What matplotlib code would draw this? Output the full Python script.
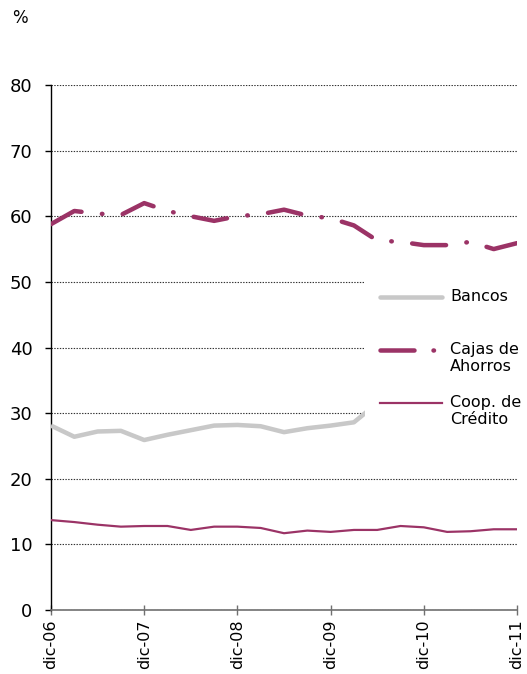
import matplotlib
matplotlib.use("Agg")
import matplotlib.pyplot as plt
from matplotlib.lines import Line2D
from matplotlib.patches import Rectangle

plt.rcParams['font.family'] = ['DejaVu Sans']
plt.rcParams['lines.scale_dashes'] = False

# Quarterly data, dic-06 .. dic-11
quarters = list(range(21))
tick_labels = ["dic-06", "dic-07", "dic-08", "dic-09", "dic-10", "dic-11"]
tick_positions = [0, 4, 8, 12, 16, 20]

bancos = [28.1, 26.4, 27.2, 27.3, 25.9, 26.7, 27.4, 28.1, 28.2, 28.0, 27.1,
          27.7, 28.1, 28.6, 31.5, 31.1, 31.8, 32.5, 31.9, 32.7, 31.8]
cajas = [58.8, 60.8, 60.4, 60.2, 62.0, 60.8, 60.0, 59.3, 60.0, 60.3, 61.0,
         60.1, 59.7, 58.6, 56.3, 56.1, 55.6, 55.6, 56.1, 55.0, 55.9]
coop = [13.7, 13.4, 13.0, 12.7, 12.8, 12.8, 12.2, 12.7, 12.7, 12.5, 11.7,
        12.1, 11.9, 12.2, 12.2, 12.8, 12.6, 11.9, 12.0, 12.3, 12.3]

series_names = ["Bancos", "Cajas de\nAhorros", "Coop. de\nCrédito"]

W, H = 527, 674
fig = plt.figure(figsize=(W / 100, H / 100), dpi=100)
ax = fig.add_axes([51 / W, 1 - 610 / H, (517 - 51) / W, (610 - 85) / H])

purple = "#9B3366"
gray = "#C8C8C8"
px = 0.72
dash_pattern = (0, (34 * px, 20.5 * px, 0.5 * px, 20.5 * px))

ax.plot(quarters, bancos, color=gray, lw=4.5 * px, solid_capstyle='butt', zorder=3)
ax.plot(quarters, cajas, color=purple, lw=4.5 * px, linestyle=dash_pattern,
        dash_capstyle='round', zorder=3)
ax.plot(quarters, coop, color=purple, lw=2.2 * px, zorder=3)

ax.set_xlim(0, 20)
ax.set_ylim(0, 80)
ax.set_yticks(range(0, 81, 10))
ax.set_xticks(tick_positions)
ax.set_xticklabels(tick_labels, rotation=90)
ax.yaxis.grid(True, linestyle=(0, (1, 1)), color="#333333", lw=0.8)
ax.set_axisbelow(True)
for s in ["top", "right"]:
    ax.spines[s].set_visible(False)
ax.spines["left"].set_color("black")
ax.spines["left"].set_linewidth(1.0)
ax.spines["bottom"].set_color("#707070")
ax.spines["bottom"].set_linewidth(1.2)
ax.tick_params(axis='y', direction='out', length=6 * px, width=1, pad=9, labelsize=13)
ax.tick_params(axis='x', direction='inout', length=10 * px, width=1, pad=3,
               labelsize=11.5, color="#707070")

fig.text(12 / W, 1 - 18 / H, "%", fontsize=12, va='center', ha='left')

# Legend (manual, white box covering part of the plot)
x0, y0, x1, y1 = 365, 262, 527, 455
fig.add_artist(Rectangle((x0 / W, 1 - y1 / H), (x1 - x0) / W, (y1 - y0) / H,
                         transform=fig.transFigure, facecolor='white',
                         edgecolor='none', zorder=5))
hx0, hx1, tx = 380, 442, 450
entries = [
    (297, dict(color=gray, lw=4.5 * px, solid_capstyle='round')),
    (350, dict(color=purple, lw=4.5 * px, linestyle=(0, (34 * px, 19 * px, 0.5 * px, 19 * px)),
               dash_capstyle='round')),
    (403, dict(color=purple, lw=2.2 * px)),
]
for (yy, style), name in zip(entries, series_names):
    fig.add_artist(Line2D([hx0 / W, hx1 / W], [1 - yy / H, 1 - yy / H],
                          transform=fig.transFigure, zorder=6, **style))
    fig.text(tx / W, 1 - (yy - 8) / H, name, fontsize=11.5, va='top', ha='left',
             linespacing=1.15, zorder=6)

fig.savefig("out.png", dpi=100)
